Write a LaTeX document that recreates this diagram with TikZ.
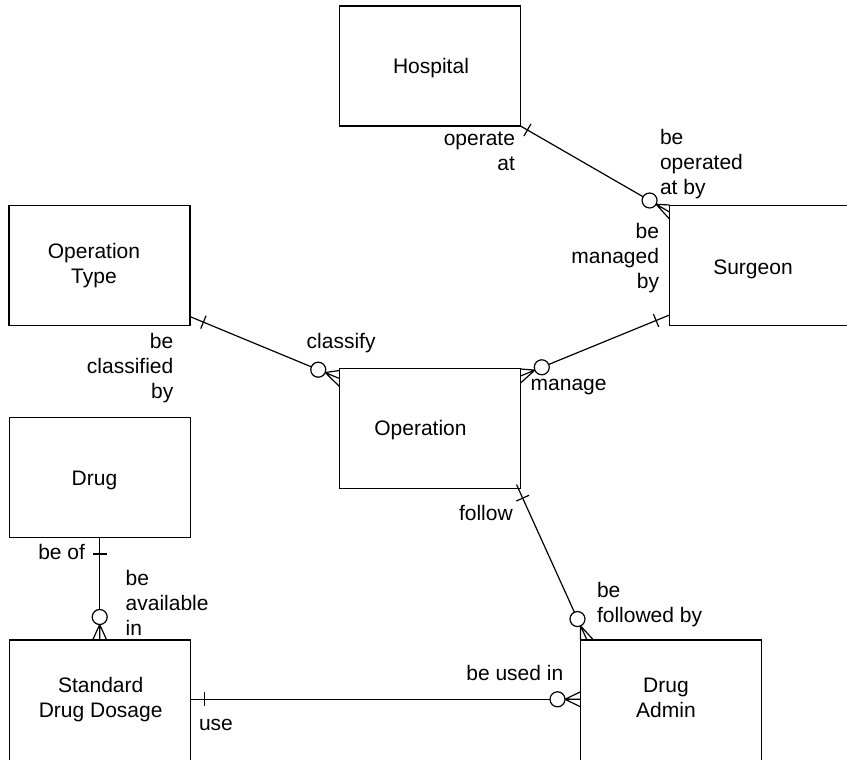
\documentclass[tikz,border=0pt]{standalone}
\usepackage{fontspec}
\setmainfont{Liberation Sans}
\usetikzlibrary{calc}

% stacked role / entity text; the first line carries the baseline
\newcommand\erstack[2]{\begin{tabular}[t]{@{}#1@{}}#2\end{tabular}}

% "one" end: a short bar across the line, #3 away from #1 towards #2
\newcommand\erone[3]{%
  \path ($(#1)!#3!(#2)$) coordinate (tk);
  \draw[erline] ($(tk)!7pt!90:(#2)$) -- ($(tk)!7pt!-90:(#2)$);}

% "zero or many" end at #2: crow's foot with toes spread along the box edge (#3), plus the ring
\newcommand\ermany[3]{%
  \path ($(#2)!15.5pt!(#1)$) coordinate (ft);
  \draw[erline] (ft) -- (#2) (ft) -- ($(#2)+#3$) (ft) -- ($(#2)-#3$);
  \draw[erline, fill=white] ($(#2)!23pt!(#1)$) circle[radius=7.5pt];}

\begin{document}
\begin{tikzpicture}[x=1pt, y=-1pt,
  every node/.style={font=\fontsize{21pt}{25.2pt}\selectfont, inner sep=0pt, outer sep=0pt},
  entity/.style={draw, line width=1.3pt, minimum width=181pt, minimum height=120pt},
  cutentity/.style={entity, minimum height=126pt},
  erline/.style={line width=1.2pt}]

\fill[white] (0,0) rectangle (847,760);
\useasboundingbox (0,0) rectangle (847,760);

% entities
\node[entity] (hosp)   at (430,66) {};
\node[entity] (optype) at (99.5,265.6) {};
\node[entity] (surg)   at (760,265.5) {};
\node[entity] (oper)   at (430,428.5) {};
\node[entity] (drug)   at (99.7,477.5) {};
\node[cutentity] (sdd)    at (99.7,703) {};
\node[cutentity] (dadmin) at (671,703) {};

% entity names
\node[anchor=base] (hosp-name)   at (431,73.3)   {Hospital};
\node[anchor=base] (optype-name) at (94,258.3)   {\erstack{c}{Operation\\Type}};
\node[anchor=base] (surg-name)   at (753,274)    {Surgeon};
\node[anchor=base] (oper-name)   at (420.5,435.7) {Operation};
\node[anchor=base] (drug-name)   at (94.5,485)   {Drug};
\node[anchor=base] (sdd-name)    at (100.7,692.3) {\erstack{c}{Standard\\Drug Dosage}};
\node[anchor=base] (dadmin-name) at (666,692.3)  {\erstack{c}{Drug\\Admin}};

% role names
\node[anchor=base east] (r-operate)    at (515,145.7)   {\erstack{r}{operate\\at}};
\node[anchor=base west] (r-operatedby) at (660,144.5)   {\erstack{l}{be\\operated\\at by}};
\node[anchor=base east] (r-managedby)  at (659,238.5)   {\erstack{r}{be\\managed\\by}};
\node[anchor=base east] (r-classified) at (173.3,348.3) {\erstack{r}{be\\classified\\by}};
\node[anchor=base west] (r-classify)   at (306.7,348.3) {classify};
\node[anchor=base west] (r-manage)     at (530.7,390.7) {manage};
\node[anchor=base east] (r-follow)     at (512.7,520.7) {follow};
\node[anchor=base east] (r-beof)       at (85,559.3)    {be of};
\node[anchor=base west] (r-available)  at (125.7,585)   {\erstack{l}{be\\available\\in}};
\node[anchor=base west] (r-followedby) at (597,597.5)   {\erstack{l}{be\\followed by}};
\node[anchor=base east] (r-usedin)     at (563.3,680)   {be used in};
\node[anchor=base west] (r-use)        at (199,730.7)   {use};

% connector ends
\coordinate (a1) at (hosp.south east);
\coordinate (b1) at ($(surg.north west)+(0,6.5)$);
\coordinate (a2) at ($(optype.south east)+(0,-9)$);
\coordinate (b2) at ($(oper.north west)+(0,10)$);
\coordinate (a3) at ($(surg.south west)+(0,-10.5)$);
\coordinate (b3) at ($(oper.north east)+(0,7.5)$);
\coordinate (a4) at ($(oper.south east)+(-4,-4)$);
\coordinate (b4) at ($(dadmin.north west)+(6.5,0)$);
\coordinate (a5) at (drug.south);
\coordinate (b5) at (sdd.north);
\coordinate (a6) at ($(sdd.north east)+(0,59.3)$);
\coordinate (b6) at ($(dadmin.north west)+(0,59.3)$);

% Hospital -- Surgeon
\draw[erline] (a1) -- ($(b1)!23pt!(a1)$);
\erone{a1}{b1}{8pt}
\ermany{a1}{b1}{(0,7)}

% Operation Type -- Operation
\draw[erline] (a2) -- ($(b2)!23pt!(a2)$);
\erone{a2}{b2}{14.5pt}
\ermany{a2}{b2}{(0,8)}

% Surgeon -- Operation
\draw[erline] (a3) -- ($(b3)!23pt!(a3)$);
\erone{a3}{b3}{14.5pt}
\ermany{a3}{b3}{(0,7)}

% Operation -- Drug Admin
\draw[erline] (a4) -- ($(b4)!23pt!(a4)$);
\erone{a4}{b4}{15pt}
\ermany{a4}{b4}{(6.5,0)}

% Drug -- Standard Drug Dosage
\draw[erline] (a5) -- ($(b5)!23pt!(a5)$);
\erone{a5}{b5}{16.5pt}
\ermany{a5}{b5}{(7,0)}

% Standard Drug Dosage -- Drug Admin
\draw[erline] (a6) -- ($(b6)!23pt!(a6)$);
\erone{a6}{b6}{14pt}
\ermany{a6}{b6}{(0,7.5)}

\end{tikzpicture}
\end{document}
